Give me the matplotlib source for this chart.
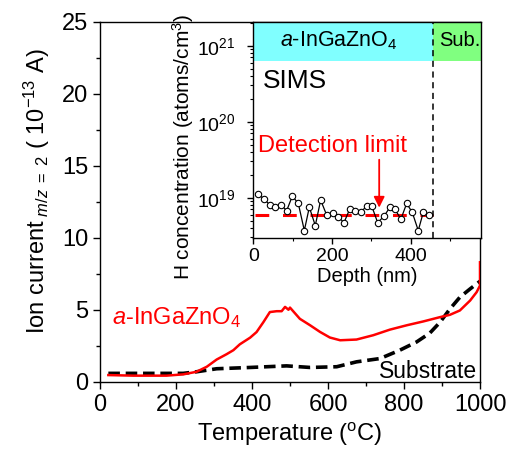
import matplotlib
matplotlib.use("Agg")
import matplotlib.pyplot as plt
from matplotlib.ticker import MultipleLocator, LogLocator, NullFormatter

plt.rcParams['font.family'] = ['Liberation Sans', 'DejaVu Sans']
plt.rcParams['mathtext.fontset'] = 'custom'
plt.rcParams['mathtext.rm'] = 'Liberation Sans'
plt.rcParams['mathtext.it'] = 'Liberation Sans:italic'
plt.rcParams['mathtext.bf'] = 'Liberation Sans:bold'

# ---- main data: ion current vs temperature ----
igzo_T = [22, 88, 175, 219, 254, 281, 307, 333, 351, 368, 395, 412, 430, 447, 465,
          478, 487, 496, 500, 526, 553, 579, 605, 632, 675, 719, 763, 807, 851, 895,
          921, 947, 974, 991, 1000, 1000]
igzo_I = [0.46, 0.42, 0.42, 0.51, 0.69, 1.04, 1.54, 1.91, 2.19, 2.6, 3.06, 3.45, 4.14,
          4.84, 4.9, 4.9, 5.2, 5.0, 5.15, 4.37, 3.92, 3.46, 3.07, 2.88, 2.93, 3.23, 3.62,
          3.92, 4.19, 4.49, 4.65, 4.95, 5.64, 6.22, 6.68, 8.3]
sub_T = [22, 219, 254, 307, 395, 491, 553, 623, 675, 737, 789, 833, 868, 895, 921,
         947, 974, 1000]
sub_I = [0.58, 0.58, 0.69, 0.90, 0.99, 1.10, 0.99, 1.04, 1.38, 1.61, 2.19, 2.76, 3.38,
         4.14, 5.06, 5.87, 6.45, 6.98]

# ---- inset data: SIMS H depth profile ----
depth_nm = [12.8, 27.2, 42.4, 55.1, 71.2, 84.8, 99.2, 114.4, 129.7, 142.4, 157.6, 171.2,
            186.5, 201.7, 216.0, 230.5, 245.7, 258.4, 272.9, 288.2, 300.9, 316.1, 332.1,
            347.4, 360.1, 375.3, 389.8, 404.1, 419.3, 432.0, 447.3]
h_conc = [1.11e19, 9.6e18, 8.0e18, 7.5e18, 8.0e18, 6.75e18, 1.05e19, 8.4e18, 3.7e18,
          7.5e18, 4.3e18, 9.3e18, 5.9e18, 6.2e18, 5.6e18, 4.7e18, 7.2e18, 6.75e18,
          6.4e18, 7.8e18, 7.8e18, 4.7e18, 5.7e18, 7.5e18, 7.0e18, 5.25e18, 8.4e18,
          6.4e18, 3.7e18, 6.4e18, 5.9e18]
detection_limit = 6.0e18
interface_nm = 457
arrow_nm = 320

W, H = 514, 451
fig = plt.figure(figsize=(W / 100, H / 100), dpi=100)

ax = fig.add_axes([100 / W, 1 - 381.7 / H, 380 / W, 359.7 / H])
ax.plot(igzo_T, igzo_I, color='#ff0000', lw=1.8, zorder=3)
ax.plot(sub_T, sub_I, color='black', lw=2.6, dashes=(3.2, 1.6), zorder=2)
ax.set_xlim(0, 1000)
ax.set_ylim(0, 25)
ax.xaxis.set_major_locator(MultipleLocator(200))
ax.xaxis.set_minor_locator(MultipleLocator(100))
ax.yaxis.set_major_locator(MultipleLocator(5))
ax.yaxis.set_minor_locator(MultipleLocator(2.5))
ax.tick_params(which='major', direction='out', length=5, width=1, labelsize=17)
ax.tick_params(which='minor', direction='out', length=3, width=1)
for s in ax.spines.values():
    s.set_linewidth(1.0)
ax.set_xlabel(r'Temperature ($^{\mathrm{o}}$C)', fontsize=17, labelpad=4)
ax.set_ylabel(r'Ion current$_{\ \mathit{m/z}\ =\ 2}$ ( 10$^{-13}$ A)', fontsize=17)
ax.yaxis.set_label_coords(-0.125, 0.53)
ax.text(32, 4.45, r'$\mathit{a}$-InGaZnO$_4$', color='#ff0000', fontsize=17,
        ha='left', va='center')
ax.text(993, 0.72, 'Substrate', color='black', fontsize=16.5, ha='right', va='center')

# ---- inset ----
ins = fig.add_axes([253.3 / W, 1 - 238 / H, 227.4 / W, 216 / H])
ins.set_xlim(0, 578)
ins.set_yscale('log')
ins.set_ylim(2.95e18, 2.05e21)
ins.axhspan(10 ** 20.8, 2.05e21, xmin=0, xmax=interface_nm / 578, color='#80ffff', lw=0, zorder=0)
ins.axhspan(10 ** 20.8, 2.05e21, xmin=interface_nm / 578, xmax=1, color='#80ff80', lw=0, zorder=0)
ins.axvline(interface_nm, color='black', lw=1.1, dashes=(4, 3), zorder=4)
ins.plot([5, interface_nm], [detection_limit, detection_limit], color='#ff0000', lw=2.2,
         dashes=(4.5, 4.5), zorder=2)
ins.plot(depth_nm, h_conc, color='black', lw=0.9, marker='o', markersize=4.6,
         markerfacecolor='white', markeredgecolor='black', markeredgewidth=0.8, zorder=3)
ins.annotate('', xy=(arrow_nm, 7.4e18), xytext=(arrow_nm, 10 ** 19.5),
             arrowprops=dict(arrowstyle='-|>', color='#ff0000', lw=1.3,
                             mutation_scale=16, shrinkA=0, shrinkB=0))
ins.text(202, 10 ** 19.68, 'Detection limit', color='#ff0000', fontsize=17,
         ha='center', va='center')
ins.text(25, 10 ** 20.53, 'SIMS', color='black', fontsize=19, ha='left', va='center')
ins.text(218, 10 ** 21.07, r'$\mathit{a}$-InGaZnO$_4$', color='black', fontsize=15.5,
         ha='center', va='center')
ins.text(525, 10 ** 21.07, 'Sub.', color='black', fontsize=14.5, ha='center', va='center')
ins.xaxis.set_major_locator(MultipleLocator(200))
ins.xaxis.set_minor_locator(MultipleLocator(100))
ins.yaxis.set_major_locator(LogLocator(base=10, numticks=10))
ins.yaxis.set_minor_locator(LogLocator(base=10, subs=range(2, 10), numticks=20))
ins.yaxis.set_minor_formatter(NullFormatter())
ins.tick_params(which='major', direction='out', length=4, width=1, labelsize=14)
ins.tick_params(axis='y', which='major', pad=9)
ins.tick_params(which='minor', direction='out', length=2, width=0.8)
for s in ins.spines.values():
    s.set_linewidth(1.0)
ins.set_xlabel('Depth (nm)', fontsize=14.5, labelpad=1)
ins.set_ylabel(r'H concentration (atoms/cm$^{3}$)', fontsize=15)
ins.yaxis.set_label_coords(-0.25, 0.42)

fig.savefig('out.png', dpi=100)
